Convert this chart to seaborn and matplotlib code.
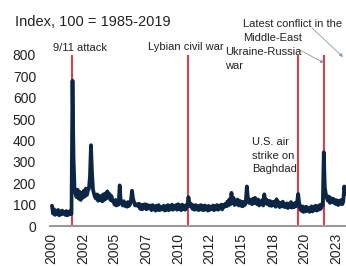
import matplotlib
matplotlib.use("Agg")
import numpy as np
import pandas as pd
import matplotlib.pyplot as plt
import seaborn as sns

# monthly geopolitical risk index, 100 = 1985-2019 average (Jan..Dec per row)
idx_2000_2005 = [
    95, 58, 78, 52, 72, 55, 75, 50, 68, 54, 72, 58,
    66, 52, 70, 50, 64, 54, 72, 56, 680, 320, 175, 150,
    135, 170, 128, 160, 122, 155, 132, 165, 138, 175, 145, 165,
    175, 230, 378, 250, 170, 150, 135, 128, 148, 118, 142, 122,
    138, 115, 148, 122, 152, 128, 162, 136, 150, 122, 140, 116,
    118, 100, 122, 96, 118, 100, 190, 118, 112, 96, 116, 94,
]
idx_2006_2011 = [
    108, 90, 112, 94, 100, 120, 165, 128, 112, 96, 98, 102,
    92, 104, 80, 98, 78, 100, 84, 102, 78, 98, 82, 96,
    90, 74, 98, 78, 92, 72, 95, 76, 98, 74, 90, 78,
    78, 95, 72, 92, 76, 98, 74, 94, 78, 100, 76, 92,
    82, 98, 76, 102, 80, 96, 74, 100, 80, 94, 76, 98,
    90, 135, 110, 92, 102, 80, 96, 76, 98, 78, 94, 74,
]
idx_2012_2017 = [
    88, 98, 76, 94, 74, 96, 78, 92, 72, 94, 76, 90,
    78, 96, 74, 92, 78, 98, 76, 94, 82, 100, 78, 98,
    90, 104, 92, 114, 96, 125, 102, 155, 108, 132, 98, 118,
    102, 124, 96, 118, 95, 114, 92, 112, 98, 118, 185, 130,
    108, 124, 112, 102, 128, 106, 132, 112, 102, 124, 96, 114,
    102, 122, 96, 148, 108, 124, 102, 118, 96, 116, 94, 112,
]
idx_2018_2023 = [
    98, 114, 90, 125, 96, 112, 88, 108, 92, 114, 90, 104,
    88, 106, 84, 104, 90, 112, 86, 104, 88, 108, 92, 112,
    150, 108, 82, 72, 92, 66, 88, 68, 90, 72, 84, 66,
    74, 92, 68, 88, 76, 95, 72, 92, 76, 98, 80, 102,
    95, 345, 180, 150, 130, 118, 138, 108, 130, 112, 128, 108,
    122, 102, 120, 98, 118, 104, 122, 102, 114, 185, 150,
]

event_dates = [2001.69, 2011.13, 2020.01, 2022.15]
tick_pos = [2000.0, 2002.57, 2005.14, 2007.71, 2010.28, 2012.85, 2015.42, 2017.99, 2020.56, 2023.13]
tick_labels = ["2000", "2002", "2005", "2007", "2010", "2012", "2015", "2018", "2020", "2023"]

values = idx_2000_2005 + idx_2006_2011 + idx_2012_2017 + idx_2018_2023
n = len(values)
month_pos = [2000 + (i + 0.5) / 12 for i in range(n)]
df = pd.DataFrame({"date": month_pos, "gpr": values})

sns.set_theme(style="white")
plt.rcParams["font.family"] = ["Liberation Sans", "DejaVu Sans"]

W, H = 346, 266
fig = plt.figure(figsize=(W / 100, H / 100), dpi=100)
ax = fig.add_axes([50 / W, 40 / H, 296 / W, 171 / H])

for d in event_dates:
    ax.axvline(d, color="#e8101e", lw=1.2, zorder=2)

sns.lineplot(data=df, x="date", y="gpr", ax=ax, color="#0b2545", lw=2.7, zorder=3)

ax.set_xlim(1999.88, 2023.93)
ax.set_ylim(0, 800)
ax.set_yticks(range(0, 801, 100))
ax.set_xticks(tick_pos)
ax.set_xticklabels(tick_labels, rotation=90)
ax.tick_params(axis="y", length=0, pad=10, labelsize=10, labelcolor="#222222")
ax.tick_params(axis="x", length=0, pad=5, labelsize=10, labelcolor="#222222")
ax.set_xlabel("")
ax.set_ylabel("")
for s in ["left", "top", "right"]:
    ax.spines[s].set_visible(False)
ax.spines["bottom"].set_color("#999999")
ax.spines["bottom"].set_linewidth(1.5)


def fp(x, y):
    return x / W, 1 - y / H


fig.text(*fp(15, 22), "Index, 100 = 1985-2019", fontsize=10.5, va="center", ha="left", color="#222222")
txt = dict(fontsize=8, ha="left", color="#222222", linespacing=1.45)
fig.text(*fp(53, 48), "9/11 attack", va="center", **txt)
fig.text(*fp(148, 47), "Lybian civil war", va="center", **txt)
fig.text(*fp(225, 47), "Ukraine-Russia\nwar", va="top", **txt)
fig.text(*fp(243, 19), "Latest conflict in the\nMiddle-East", va="top", **txt)
fig.text(*fp(252, 137), "U.S. air\nstrike on\nBaghdad", va="top", **txt)

arrow = dict(arrowstyle="-|>", color="#8a9bb0", lw=0.6, mutation_scale=5, shrinkA=0, shrinkB=0)
ax.annotate("", xy=fp(324, 63), xytext=fp(298, 49), xycoords="figure fraction",
            textcoords="figure fraction", arrowprops=arrow, annotation_clip=False)
ax.annotate("", xy=fp(343, 57), xytext=fp(312, 28), xycoords="figure fraction",
            textcoords="figure fraction", arrowprops=arrow, annotation_clip=False)

fig.savefig("out.png", dpi=100)
